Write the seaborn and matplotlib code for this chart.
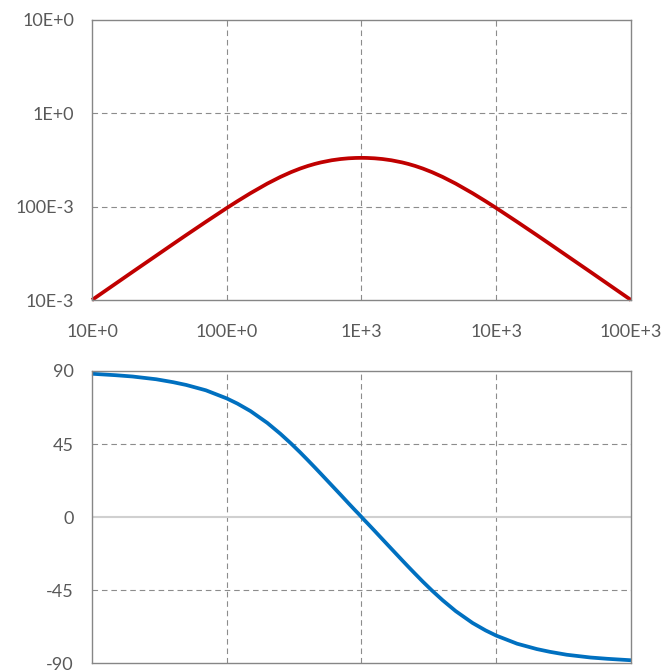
import matplotlib
matplotlib.use("Agg")
import matplotlib.pyplot as plt
import seaborn as sns
import pandas as pd

# values (frequency in Hz)
freq = [10, 15, 20, 30, 40, 50, 70, 100, 120, 150, 200, 250, 300, 350, 400,
        450, 500, 600, 700, 800, 900, 950, 1000, 1053, 1111, 1250, 1430, 1667,
        2000, 2222, 2500, 2857, 3333, 4000, 5000, 6667, 8333, 10000, 14286,
        20000, 25000, 33333, 50000, 66667, 100000]
gain = [0.0100, 0.0150, 0.0200, 0.0299, 0.0398, 0.0496, 0.0688, 0.0967,
        0.1144, 0.1394, 0.1767, 0.2082, 0.2344, 0.2558, 0.2731, 0.2870,
        0.2981, 0.3141, 0.3239, 0.3297, 0.3325, 0.3331, 0.3333, 0.3331,
        0.3325, 0.3297, 0.3239, 0.3141, 0.2981, 0.2870, 0.2731, 0.2558,
        0.2344, 0.2082, 0.1767, 0.1394, 0.1144, 0.0967, 0.0688, 0.0496,
        0.0398, 0.0299, 0.0200, 0.0150, 0.0100]
phase = [88.3, 87.4, 86.6, 84.9, 83.1, 81.4, 78.1, 73.1, 69.9, 65.3, 58.0,
         51.3, 45.3, 39.9, 35.0, 30.6, 26.6, 19.6, 13.7, 8.5, 4.0, 2.0, 0.0,
         -2.0, -4.0, -8.5, -13.7, -19.6, -26.6, -30.6, -35.0, -39.9, -45.3,
         -51.3, -58.0, -65.3, -69.9, -73.1, -78.1, -81.4, -83.1, -84.9, -86.6,
         -87.4, -88.3]

x_ticks = [10, 100, 1000, 10000, 100000]
x_labels = ["10E+0", "100E+0", "1E+3", "10E+3", "100E+3"]
y1_ticks = [0.01, 0.1, 1, 10]
y1_labels = ["10E-3", "100E-3", "1E+0", "10E+0"]
y2_ticks = [-90, -45, 0, 45, 90]
y2_labels = ["-90", "-45", "0", "45", "90"]

df = pd.DataFrame({"f": freq, "gain": gain, "phase": phase})

sns.set_style("white")
plt.rcParams["font.family"] = ["Lato", "DejaVu Sans"]
TXT = "#595959"
SPINE = "#868686"
GRID = "#8c8c8c"

fig = plt.figure(figsize=(6.69, 6.71), dpi=100)
ax1 = fig.add_axes([0.1375, 0.5529, 0.8057, 0.4173])
ax2 = fig.add_axes([0.1375, 0.0119, 0.8057, 0.4352])

sns.lineplot(data=df, x="f", y="gain", ax=ax1, color="#C00000", linewidth=2.7)
sns.lineplot(data=df, x="f", y="phase", ax=ax2, color="#0070C0", linewidth=2.7)

for ax in (ax1, ax2):
    ax.set_xscale("log")
    ax.set_xlim(10, 100000)
    ax.set_xticks(x_ticks)
    ax.minorticks_off()
    ax.set_xlabel("")
    ax.set_ylabel("")
    for s in ax.spines.values():
        s.set_color(SPINE)
        s.set_linewidth(1.0)
    for v in x_ticks[1:-1]:
        ax.axvline(v, color=GRID, linewidth=0.8, dashes=(5, 3.5), zorder=0)
    ax.tick_params(length=0, labelsize=13, colors=TXT, pad=13)

ax1.set_xticklabels(x_labels)
ax1.tick_params(axis="x", pad=17)
ax1.set_yscale("log")
ax1.set_ylim(0.01, 10)
ax1.set_yticks(y1_ticks)
ax1.set_yticklabels(y1_labels)
ax1.minorticks_off()
for v in y1_ticks[1:-1]:
    ax1.axhline(v, color=GRID, linewidth=0.8, dashes=(5, 3.5), zorder=0)

ax2.set_xticklabels([])
ax2.set_ylim(-90, 90)
ax2.set_yticks(y2_ticks)
ax2.set_yticklabels(y2_labels)
for v in (-45, 45):
    ax2.axhline(v, color=GRID, linewidth=0.8, dashes=(5, 3.5), zorder=0)
ax2.axhline(0, color="#d0d0d0", linewidth=1.5, zorder=0)

for ax in (ax1, ax2):
    ax.lines[0].set_clip_on(False)
    ax.lines[0].set_solid_capstyle("butt")

fig.savefig("out.png", dpi=100)
